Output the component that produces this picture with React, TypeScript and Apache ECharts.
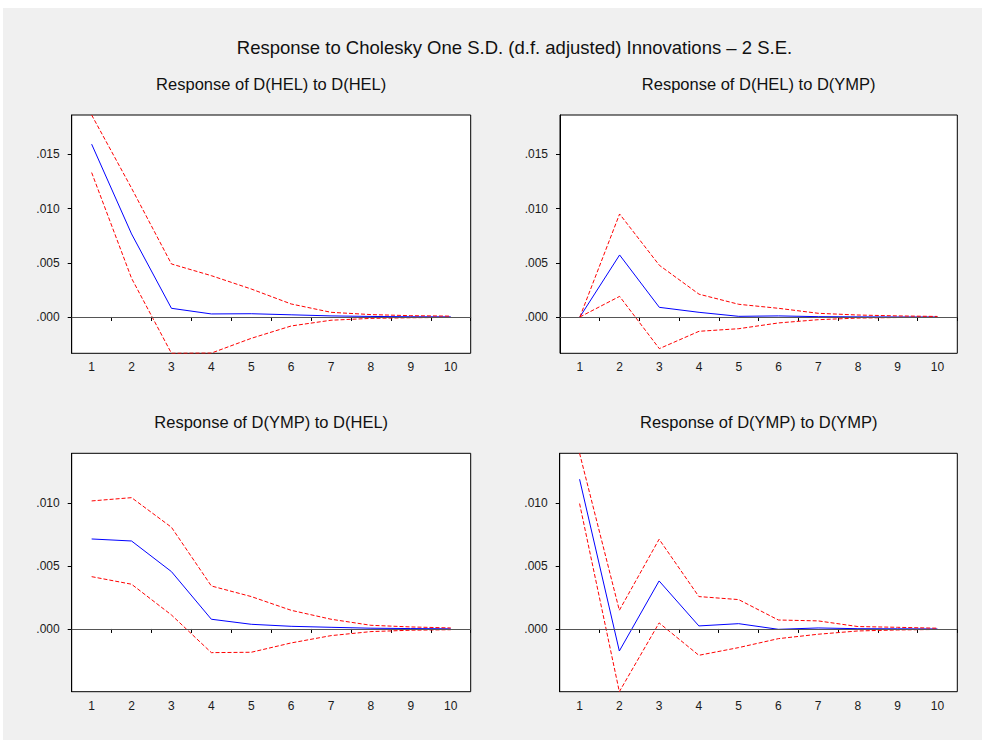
import React, { useEffect, useRef } from "react";
import * as echarts from "echarts";

const periods = ["1", "2", "3", "4", "5", "6", "7", "8", "9", "10"];

// Response of D(HEL) to D(HEL)
const helHelResp = [0.01594, 0.00766, 0.0008, 0.00028, 0.0003, 0.0002, 0.0001, 0.00005, 0.00002, 0.00001];
const helHelUpper = [0.01863, 0.01188, 0.00489, 0.00381, 0.00258, 0.0012, 0.00043, 0.00022, 0.00012, 0.00008];
const helHelLower = [0.01332, 0.00357, -0.00335, -0.00333, -0.00197, -0.00083, -0.0003, -0.00013, -0.00007, -0.00004];

// Response of D(HEL) to D(YMP)
const helYmpResp = [0, 0.00572, 0.00089, 0.00043, 0.00006, 0.0001, 0.00003, 0.00001, 0, 0];
const helYmpUpper = [0, 0.0095, 0.00477, 0.0021, 0.00117, 0.0008, 0.00034, 0.00018, 0.0001, 0.00005];
const helYmpLower = [0, 0.0019, -0.00292, -0.00132, -0.00108, -0.00055, -0.00025, -0.0001, -0.00005, -0.00002];

// Response of D(YMP) to D(HEL)
const ympHelResp = [0.00714, 0.00698, 0.00455, 0.00077, 0.00037, 0.00021, 0.00013, 0.00006, 0.00003, 0.00001];
const ympHelUpper = [0.01016, 0.01042, 0.00807, 0.00341, 0.00257, 0.00148, 0.00077, 0.00029, 0.00016, 0.00008];
const ympHelLower = [0.00415, 0.00355, 0.00111, -0.00188, -0.00185, -0.00111, -0.00053, -0.00021, -0.0001, -0.00006];

// Response of D(YMP) to D(YMP)
const ympYmpResp = [0.01188, -0.00175, 0.00381, 0.00024, 0.00042, -0.00003, 0.00008, 0.00002, 0.00001, 0];
const ympYmpUpper = [0.01394, 0.00148, 0.00712, 0.00257, 0.00233, 0.00071, 0.00064, 0.00019, 0.00013, 0.00006];
const ympYmpLower = [0.00995, -0.00498, 0.00048, -0.00209, -0.00148, -0.00077, -0.00042, -0.00016, -0.00008, -0.00004];

const topRowTicks = [0, 0.005, 0.01, 0.015];
const bottomRowTicks = [0, 0.005, 0.01];

const mainTitle = "Response to Cholesky One S.D. (d.f. adjusted) Innovations \u2013 2 S.E.";
const panelTitles = [
  "Response of D(HEL) to D(HEL)",
  "Response of D(HEL) to D(YMP)",
  "Response of D(YMP) to D(HEL)",
  "Response of D(YMP) to D(YMP)",
];

const FONT = "'Liberation Sans', Arial, sans-serif";

export default function App() {
  const ref = useRef<HTMLDivElement>(null);

  useEffect(() => {
    if (!ref.current) return;
    const chart = echarts.init(ref.current, undefined, { renderer: "svg" });

    const panels = [
      { resp: helHelResp, up: helHelUpper, lo: helHelLower },
      { resp: helYmpResp, up: helYmpUpper, lo: helYmpLower },
      { resp: ympHelResp, up: ympHelUpper, lo: ympHelLower },
      { resp: ympYmpResp, up: ympYmpUpper, lo: ympYmpLower },
    ];
    const rowAll = [
      [...helHelResp, ...helHelUpper, ...helHelLower, ...helYmpResp, ...helYmpUpper, ...helYmpLower],
      [...ympHelResp, ...ympHelUpper, ...ympHelLower, ...ympYmpResp, ...ympYmpUpper, ...ympYmpLower],
    ];
    const rowMin = rowAll.map((a) => Math.min(...a));
    const rowMax = rowAll.map((a) => Math.max(...a));

    const gridBoxes = [
      { left: 68.7, top: 107, width: 399, height: 238.3 },
      { left: 557, top: 107, width: 397.3, height: 238.3 },
      { left: 68.7, top: 445.3, width: 399, height: 238.4 },
      { left: 556.7, top: 445.3, width: 397.6, height: 238.4 },
    ];

    const grid = gridBoxes.map((g) => ({
      ...g,
      show: true,
      backgroundColor: "#ffffff",
      borderColor: "#000000",
      borderWidth: 1,
      containLabel: false,
    }));

    const xAxis = gridBoxes.map((_, i) => ({
      type: "category",
      gridIndex: i,
      data: periods,
      boundaryGap: true,
      axisLine: { show: true, lineStyle: { color: "#000", width: 1 } },
      axisTick: { show: true, length: 4, interval: 0, alignWithLabel: false, lineStyle: { color: "#000" } },
      axisLabel: { color: "#1a1a1a", fontSize: 12, fontFamily: FONT, margin: 8, interval: 0 },
      splitLine: { show: false },
    }));

    const yAxis = gridBoxes.map((_, i) => {
      const row = i < 2 ? 0 : 1;
      const ticks = row === 0 ? topRowTicks : bottomRowTicks;
      return {
        type: "value",
        gridIndex: i,
        min: rowMin[row],
        max: rowMax[row],
        axisLine: { show: true, lineStyle: { color: "#000", width: 1 } },
        axisTick: { show: true, length: 4, customValues: ticks, lineStyle: { color: "#000" } },
        axisLabel: {
          customValues: ticks,
          color: "#1a1a1a",
          fontSize: 12,
          fontFamily: FONT,
          margin: 12,
          formatter: (v: number) => v.toFixed(3).replace(/^0/, "").replace(/^-0/, "-"),
        },
        splitLine: { show: false },
      };
    });

    const series: any[] = [];
    panels.forEach((p, i) => {
      series.push({
        type: "line",
        xAxisIndex: i,
        yAxisIndex: i,
        data: [],
        silent: true,
        markLine: {
          silent: true,
          symbol: "none",
          label: { show: false },
          lineStyle: { color: "#555555", width: 1, type: "solid" },
          data: [{ yAxis: 0 }],
        },
      });
      series.push({
        type: "line",
        xAxisIndex: i,
        yAxisIndex: i,
        data: p.resp,
        symbol: "none",
        lineStyle: { color: "#0000ff", width: 1 },
        itemStyle: { color: "#0000ff" },
      });
      [p.up, p.lo].forEach((d) =>
        series.push({
          type: "line",
          xAxisIndex: i,
          yAxisIndex: i,
          data: d,
          symbol: "none",
          lineStyle: { color: "#ff0000", width: 1, type: [4, 2] },
          itemStyle: { color: "#ff0000" },
        })
      );
    });

    const titleCenters = [
      [268.2, 76],
      [755.7, 76],
      [268.2, 414],
      [755.7, 414],
    ];

    const graphic: any[] = [
      {
        type: "text",
        x: 511.5,
        y: 39,
        style: {
          text: mainTitle,
          fill: "#111",
          font: `18.5px ${FONT}`,
          textAlign: "center",
          textVerticalAlign: "middle",
        },
      },
      ...panelTitles.map((t, i) => ({
        type: "text",
        x: titleCenters[i][0],
        y: titleCenters[i][1],
        style: {
          text: t,
          fill: "#111",
          font: `16.5px ${FONT}`,
          textAlign: "center",
          textVerticalAlign: "middle",
        },
      })),
    ];

    chart.setOption({
      animation: false,
      backgroundColor: "#f0f0f0",
      grid,
      xAxis,
      yAxis,
      series,
      graphic,
    });

    return () => chart.dispose();
  }, []);

  return (
    <div
      ref={ref}
      style={{ position: "absolute", left: 3, top: 8, width: 979, height: 732 }}
    />
  );
}
